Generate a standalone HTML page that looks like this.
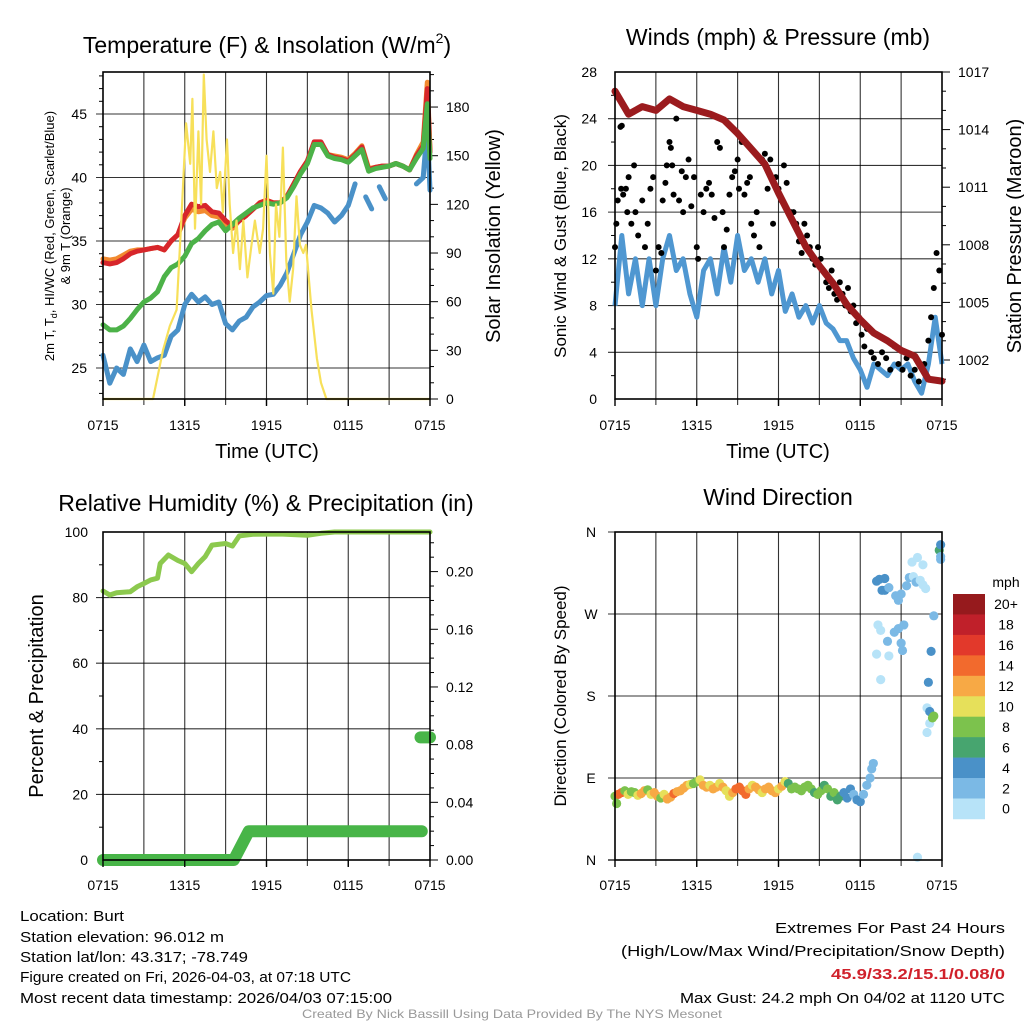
<!DOCTYPE html>
<html><head><meta charset="utf-8"><style>
html,body{margin:0;padding:0;background:#fff;}
svg{display:block;font-family:"Liberation Sans",Arial,sans-serif;}
</style></head><body>
<svg id="fig" width="1024" height="1024" viewBox="0 0 1024 1024">
<g id="p1"></g>
<g id="p2"></g>
<g id="p3"></g>
<g id="p4"></g>
<g id="txt">
<text x="20" y="921" font-size="15" textLength="104" lengthAdjust="spacingAndGlyphs">Location: Burt</text>
<text x="20" y="942" font-size="15" textLength="204" lengthAdjust="spacingAndGlyphs">Station elevation: 96.012 m</text>
<text x="20" y="962" font-size="15" textLength="228" lengthAdjust="spacingAndGlyphs">Station lat/lon: 43.317; -78.749</text>
<text x="20" y="982" font-size="15" textLength="331" lengthAdjust="spacingAndGlyphs">Figure created on Fri, 2026-04-03, at 07:18 UTC</text>
<text x="20" y="1003" font-size="15" textLength="372" lengthAdjust="spacingAndGlyphs">Most recent data timestamp: 2026/04/03 07:15:00</text>
<text x="1005" y="933" font-size="15" text-anchor="end" textLength="230" lengthAdjust="spacingAndGlyphs">Extremes For Past 24 Hours</text>
<text x="1005" y="956" font-size="15" text-anchor="end" textLength="384" lengthAdjust="spacingAndGlyphs">(High/Low/Max Wind/Precipitation/Snow Depth)</text>
<text x="1005" y="979" font-size="15" text-anchor="end" font-weight="bold" fill="#d0212b" textLength="174" lengthAdjust="spacingAndGlyphs">45.9/33.2/15.1/0.08/0</text>
<text x="1005" y="1003" font-size="15" text-anchor="end" textLength="325" lengthAdjust="spacingAndGlyphs">Max Gust: 24.2 mph On 04/02 at 1120 UTC</text>
<text x="512" y="1018" font-size="12" text-anchor="middle" fill="#999" textLength="420" lengthAdjust="spacingAndGlyphs">Created By Nick Bassill Using Data Provided By The NYS Mesonet</text>
</g>
</svg>
<script>
// ---- Temperature panel data ----
const tempTimes=[0,0.5,1,1.5,2,2.5,3,3.5,4,4.5,5,5.5,6,6.5,7,7.5,8,8.5,9,9.5,10,10.5,11,11.5,12,12.5,13,13.5,14,14.5,15,15.5,16,16.5,17,17.5,18,18.5,19,19.5,20,20.5,21,21.5,22,22.5,23,23.5,23.8,24];
const tempRed=[33.3,33.2,33.3,33.6,34.0,34.2,34.3,34.4,34.5,34.3,35.0,35.5,37.0,37.9,37.7,37.8,37.3,37.2,36.6,36.2,36.6,37.0,37.5,38.0,38.2,38.0,38.0,38.5,39.5,40.5,41.3,42.8,42.8,41.8,41.6,41.5,41.3,41.8,42.4,40.6,40.8,40.9,40.9,41.1,40.9,40.6,41.7,42.5,47.0,42.0];
const tempOrange=[33.6,33.5,33.6,33.9,34.2,34.3,34.3,34.4,34.5,34.3,35.0,35.5,36.8,37.5,37.3,37.4,37.0,36.9,36.3,36.0,36.6,37.0,37.5,38.0,38.2,38.0,38.0,38.5,39.5,40.5,41.3,42.7,42.7,41.8,41.7,41.6,41.4,41.9,42.5,40.7,40.8,40.9,40.9,41.1,40.9,40.6,41.8,42.8,47.5,42.2];
const tempGreen=[28.4,28.0,28.0,28.3,28.9,29.6,30.2,30.5,31.0,32.2,32.9,33.2,33.8,34.8,35.2,35.8,36.3,36.5,35.8,36.3,36.8,37.2,37.6,37.8,38.0,37.9,38.0,38.4,39.3,40.3,41.1,42.6,42.6,41.7,41.5,41.4,41.2,41.7,42.2,40.5,40.7,40.8,40.9,41.1,40.9,40.6,41.5,42.3,45.8,41.5];
const tempBlue=[26.0,23.8,25.0,24.5,26.5,25.5,26.8,25.5,25.8,26.0,27.5,28.0,30.0,30.8,30.2,30.6,30.0,30.2,28.5,28.0,28.7,29.0,29.8,30.2,30.7,30.8,31.5,32.5,34.0,35.5,36.5,37.8,37.6,37.2,36.5,37.0,37.8,39.5,null,38.0,null,38.8,null,null,null,null,39.5,40.0,44.0,39.0];
const insTimes=[0,3.67,4.4,4.9,5.4,5.75,6.1,6.4,6.56,6.75,7.0,7.2,7.4,7.6,7.85,8.1,8.35,8.6,8.8,9.1,9.3,9.55,9.8,10.05,10.3,10.6,10.9,11.15,11.5,11.75,12.0,12.25,12.5,12.7,12.95,13.2,13.45,13.7,13.95,14.2,14.45,14.7,14.9,15.3,15.7,16.0,16.4,24];
const insValues=[0,0,30,45,55,110,170,145,185,105,165,120,200,160,140,165,130,140,115,160,120,90,110,80,110,75,95,110,90,105,150,90,65,120,100,155,85,60,80,125,95,90,95,55,25,10,0,0];
const tempTicks=[25,30,35,40,45];
const insTicks=[0,30,60,90,120,150,180];
const timeTickLabels=["0715","1315","1915","0115","0715"];
// ---- Winds panel data ----
const windTimes=[0,0.5,1,1.5,2,2.5,3,3.5,4,4.5,5,5.5,6,6.5,7,7.5,8,8.5,9,9.5,10,10.5,11,11.5,12,12.5,13,13.5,14,14.5,15,15.5,16,16.5,17,17.5,18,18.5,19,19.5,20,20.5,21,21.5,22,22.5,23,23.5,24];
const windSpeed=[8,14,9,12,8,12,8,12,14,11,12,9,7,11,12,9,13,10,14,11,12,10,12,9,11,7.5,9,7,8,6.5,8,6.5,6,5,5,3.5,2.5,1,3,2.5,2,3,2.5,3,1.5,0.5,3,7,3];
const presTimes=[0,1,2,3,4,5,6,7,8,9,10,11,12,13,14,15,16,17,18,19,20,21,22,23,24];
const pressure=[1016.0,1014.8,1015.2,1015.0,1015.6,1015.2,1015.0,1014.8,1014.5,1013.8,1013.0,1012.2,1010.7,1009.3,1007.9,1006.9,1006.0,1004.9,1004.1,1003.4,1003.0,1002.5,1002.2,1001.0,1000.9];
const gustTimes=[0,0.1,0.2,0.4,0.5,0.45,0.6,0.8,0.9,1,1.2,1.4,1.5,1.7,2,2.2,2.4,2.6,2.8,3,3.2,3.4,3.5,3.7,3.8,4,4.1,4.2,4.3,4.5,4.7,4.9,5,5.2,5.4,5.6,5.8,6,6.1,6.3,6.5,6.7,6.9,7.1,7.3,7.5,7.7,7.9,8,8.2,8.4,8.6,8.8,9,9.1,9.3,9.5,9.7,9.9,10,10.2,10.4,10.6,10.8,11,11.2,11.4,11.6,11.8,12,12.2,12.4,12.6,12.9,13.1,13.3,13.5,13.7,13.9,14.1,14.3,14.5,14.7,14.9,15.1,15.3,15.5,15.7,15.9,16.1,16.3,16.5,16.7,16.9,17.1,17.3,17.5,17.7,17.9,18.1,18.3,18.5,18.8,19,19.3,19.6,19.9,20.2,20.5,20.8,21.1,21.4,21.7,22,22.3,22.7,23,23.2,23.4,23.6,23.8,24];
const gustSpeed=[13,15,17,23.3,23.4,18,17.5,18,16,19,15,20,16,14,17,13,15,18,19,11,13,12.5,17,18.5,20,22,21.5,20,17.5,24,17,19.5,16,19,20.5,16.5,19,13,12,17.5,16,18,18.5,17.5,15.5,22,21.5,16,13,14.5,17.5,19,19.5,20.5,18,22,17.5,18.5,19,15,14,16,13,20.5,21,18,20.5,15,19,18,17,20,18.5,16,16,15,13.5,12.5,15,14,13,12,11.5,13,12,11,10,9.5,11,9,8.5,10,9,8,9.5,7.5,8,6.5,7,5.5,4.5,6,4,3.5,3,4,3.5,2.5,4.5,3,2.5,3.5,2,2.5,1.5,3,5,7,9.5,12.5,11,5.5];
const windTicks=[0,4,8,12,16,20,24,28];
const presTicks=[1002,1005,1008,1011,1014,1017];
// ---- Humidity panel data ----
const rhTimes=[0,0.5,1,2,2.5,3,3.5,4,4.2,4.8,5.5,6,6.5,7,7.5,8,9,9.5,10,11,13,15,16,17,24];
const rhValues=[82,80.8,81.5,81.8,83.3,84.3,85.4,85.9,90.4,93,91.3,90.4,87.9,90.4,92.5,96,96.5,95.7,98.8,99.3,99.4,99,99.6,100,100];
const precipTimes=[0,9.6,10.7,23.4];
const precipValues=[0,0,0.02,0.02];
const snowTimes=[23.3,24.0];
const snowValues=[0.085,0.085];
const rhTicks=[0,20,40,60,80,100];
const precipTicks=["0.00","0.04","0.08","0.12","0.16","0.20"];
// ---- Wind direction panel data ----
const dirTimes=[0,0.12,0.24,0.48,0.72,0.96,1.2,1.44,1.68,1.92,2.16,2.4,2.64,2.88,3.12,3.36,3.6,3.84,4.08,4.32,4.56,4.8,5.04,5.28,5.52,5.76,6.0,6.24,6.48,6.72,6.96,7.2,7.44,7.68,7.92,8.16,8.4,8.64,8.88,9.12,9.36,9.6,9.84,10.08,10.32,10.56,10.8,11.04,11.28,11.52,11.76,12.0,12.24,12.48,12.72,12.96,13.2,13.44,13.68,13.92,14.16,14.4,14.64,14.88,15.12,15.36,15.6,15.84,16.08,16.32,16.56,16.8,17.04,17.28,17.52,17.76,18.0,18.24,18.48,18.72,18.84,18.96,
19.2,19.4,19.8,19.6,19.8,20.1,19.3,19.5,19.2,19.5,20.0,20.1,20.5,20.8,21.0,21.1,20.6,20.8,21.2,21.0,21.4,21.6,21.9,22.1,22.4,22.6,22.8,21.8,22.2,22.6,23.4,23.2,23.0,22.9,23.1,23.1,23.3,23.4,22.9,23.8,23.9,23.9,23.9,22.2];
const dirValues=[70,62,72,74,76,72,75,74,71,73,76,77,72,74,70,68,72,67,69,73,75,76,79,82,83,84,86,88,82,80,82,78,80,84,80,76,70,74,78,80,76,72,78,82,80,77,74,78,80,76,74,78,81,86,84,78,80,78,76,80,82,78,74,72,76,82,78,70,74,66,70,74,68,78,72,66,64,72,82,90,100,106,
306,308,309,296,296,299,258,252,226,198,240,224,250,254,238,230,290,285,258,292,301,310,311,305,307,302,298,327,332,324,268,229,195,167,163,150,156,158,140,340,346,333,330,3];
const dirSpeed=[8,8,14,14,9,10,9,8,10,12,12,8,10,12,12,8,10,12,12,14,12,12,12,12,10,8,8,10,12,12,10,12,12,10,12,10,10,12,14,14,14,14,12,10,12,12,10,12,12,12,12,10,12,10,6,8,8,8,8,8,8,8,6,8,8,6,8,6,8,6,6,4,4,4,2,4,4,2,2,2,2,2,
4,4,4,4,4,3,1,1,1,1,2,1,3,2,3,3,2,3,3,3,2,2,1,2,1,1,1,1,1,1,3,4,4,1,4,1,8,8,1,6,4,3,2,0];
const dirTickLabels=["N","E","S","W","N"];
const speedBinLabels=["0","2","4","6","8","10","12","14","16","18","20+"];
const speedBinColors=["#b7e3f8","#7bb9e5","#4a91c8","#47a56f","#7cc24d","#e6e05a","#f7a945","#f26a2d","#e2392b","#c0202a","#961a1d"];

const NS="http://www.w3.org/2000/svg";
function mk(parent,tag,attrs){const e=document.createElementNS(NS,tag);for(const k in attrs)e.setAttribute(k,attrs[k]);parent.appendChild(e);return e;}
function txt(parent,x,y,s,size,anchor,extra){const t=mk(parent,"text",Object.assign({x:x,y:y,"font-size":size,"text-anchor":anchor||"start"},extra||{}));t.textContent=s;return t;}
function pathFrom(xs,ys){let d="",pen=false;for(let i=0;i<xs.length;i++){if(ys[i]===null||ys[i]===undefined){pen=false;continue;}d+=(pen?"L":"M")+xs[i].toFixed(1)+" "+ys[i].toFixed(1);pen=true;}return d;}

function frame(g,x0,x1,y0,y1,hLines){
  for(let h=3;h<24;h+=3){const x=x0+h*(x1-x0)/24;
    const l=mk(g,"line",{x1:x,x2:x,y1:y0,y2:y1+6,stroke:"#000","stroke-width":1.1,"stroke-opacity":0.8});
    
    }
  hLines.forEach(y=>{const l=mk(g,"line",{x1:x0-7,x2:x1,y1:y,y2:y,stroke:"#000","stroke-width":1.1,"stroke-opacity":0.8});
    
    });
}
function box(g,x0,x1,y0,y1){const r=mk(g,"rect",{x:x0,y:y0,width:x1-x0,height:y1-y0,fill:"none",stroke:"#000","stroke-width":1.6});
  
  
  [0,6,12,18,24].forEach(h=>{const x=x0+h*(x1-x0)/24;mk(g,"line",{x1:x,x2:x,y1:y1,y2:y1+7,stroke:"#000","stroke-width":1.4});});
}
function xLabels(g,x0,x1,y){timeTickLabels.forEach((s,i)=>{const t=txt(g,x0+i*6*(x1-x0)/24,y,s,14,"middle");
  
  });}

// ================= Panel 1 =================
(function(){
  const g=document.getElementById("p1");const x0=103,x1=430,y0=72,y1=399;
  const X=h=>x0+h*(x1-x0)/24, YT=t=>368-(t-25)*12.7, YI=v=>399-v*1.622;
  frame(g,x0,x1,y0,y1,tempTicks.map(YT));
  for(let t=23;t<=48;t++){if(t%5)mk(g,"line",{x1:x0-4,x2:x0,y1:YT(t),y2:YT(t),stroke:"#000","stroke-width":1});}
  for(let v=0;v<=200;v+=10){const y=YI(v);mk(g,"line",{x1:x1,x2:x1+(v%30===0?8:4),y1:y,y2:y,stroke:"#000","stroke-width":1});}
  const xs=tempTimes.map(X);
  const add=(arr,col,w,name)=>{const p=mk(g,"path",{d:pathFrom(xs,arr.map(v=>v===null?null:YT(v))),fill:"none",stroke:col,"stroke-width":w,"stroke-linejoin":"round","stroke-linecap":"round"});
    
    };
  add(tempBlue,"#4a91c8",5,"wind-chill-line");
  tempBlue.forEach((v,i)=>{if(v!==null&&(i===0||tempBlue[i-1]===null)&&(i===tempBlue.length-1||tempBlue[i+1]===null)){mk(g,"line",{x1:xs[i]-3,x2:xs[i]+3,y1:YT(v)-6,y2:YT(v)+6,stroke:"#4a91c8","stroke-width":5,"stroke-linecap":"round"});}});
  add(tempOrange,"#f28a30",5,"temp-9m-line");
  add(tempRed,"#d7262b",5,"temp-2m-line");
  add(tempGreen,"#4cb248",5,"dewpoint-line");
  const ip=mk(g,"path",{d:pathFrom(insTimes.map(X),insValues.map(YI)),fill:"none",stroke:"#f7e05a","stroke-width":2.2,"stroke-linejoin":"round"});
  
  
  box(g,x0,x1,y0,y1);
  tempTicks.forEach(t=>{const e=txt(g,87,YT(t)+5,String(t),14,"end");
    
    });
  insTicks.forEach(v=>{const e=txt(g,446,YI(v)+5,String(v),14,"start");
    
    });
  xLabels(g,x0,x1,430);
  let e=mk(g,"text",{x:267,y:53,"font-size":23,"text-anchor":"middle"});
  e.innerHTML='Temperature (F) &amp; Insolation (W/m<tspan font-size="14" dy="-10">2</tspan><tspan dy="10">)</tspan>';
  
  
  e=txt(g,267,458,"Time (UTC)",20,"middle");
  
  
  e=mk(g,"text",{x:0,y:0,"font-size":13,"text-anchor":"middle",transform:"translate(54,236) rotate(-90)"});
  e.innerHTML='2m T, T<tspan font-size="9" dy="3">d</tspan><tspan dy="-3">, HI/WC (Red, Green, Scarlet/Blue)</tspan>';
  
  
  e=txt(g,0,0,"& 9m T (Orange)",13,"middle",{transform:"translate(70,236) rotate(-90)"});
  
  
  e=txt(g,0,0,"Solar Insolation (Yellow)",20,"middle",{transform:"translate(500,236) rotate(-90)"});
  
  
})();

// ================= Panel 2 =================
(function(){
  const g=document.getElementById("p2");const x0=615,x1=942,y0=72,y1=399;
  const X=h=>x0+h*(x1-x0)/24, YW=v=>399-v*11.68, YP=p=>72+(1017-p)*19.2;
  frame(g,x0,x1,y0,y1,windTicks.slice(1,7).map(YW));
  for(let v=2;v<28;v+=4){mk(g,"line",{x1:x0-4,x2:x0,y1:YW(v),y2:YW(v),stroke:"#000","stroke-width":1});}
  for(let p=1001;p<=1017;p++){const y=YP(p);mk(g,"line",{x1:x1,x2:x1+((1017-p)%3===0?8:4),y1:y,y2:y,stroke:"#000","stroke-width":1});}
  const wp=mk(g,"path",{d:pathFrom(windTimes.map(X),windSpeed.map(YW)),fill:"none",stroke:"#4f97d1","stroke-width":5,"stroke-linejoin":"round"});
  
  
  gustTimes.forEach((t,i)=>{const c=mk(g,"circle",{cx:X(t),cy:YW(gustSpeed[i]),r:3,fill:"#000"});
    
    });
  const pp=mk(g,"path",{d:pathFrom(presTimes.map(X),pressure.map(YP)),fill:"none",stroke:"#9b1b1e","stroke-width":7,"stroke-linejoin":"round","stroke-linecap":"round"});
  
  
  box(g,x0,x1,y0,y1);
  windTicks.forEach(v=>{const e=txt(g,597,YW(v)+5,String(v),14,"end");
    
    });
  presTicks.forEach(p=>{const e=txt(g,958,YP(p)+5,String(p),14,"start");
    
    });
  xLabels(g,x0,x1,430);
  let e=txt(g,778,45,"Winds (mph) & Pressure (mb)",23,"middle");
  
  
  e=txt(g,778,458,"Time (UTC)",20,"middle");
  
  
  e=txt(g,0,0,"Sonic Wind & Gust (Blue, Black)",17,"middle",{transform:"translate(566,236) rotate(-90)"});
  
  
  e=txt(g,0,0,"Station Pressure (Maroon)",20,"middle",{transform:"translate(1021,236) rotate(-90)"});
  
  
})();

// ================= Panel 3 =================
(function(){
  const g=document.getElementById("p3");const x0=103,x1=430,y0=532,y1=860;
  const X=h=>x0+h*(x1-x0)/24, YR=r=>860-r*3.28, YQ=p=>860-p*1442;
  frame(g,x0,x1,y0,y1,rhTicks.slice(1,5).map(YR));
  for(let r=10;r<100;r+=20){mk(g,"line",{x1:x0-4,x2:x0,y1:YR(r),y2:YR(r),stroke:"#000","stroke-width":1});}
  for(let k=0;k<=22;k++){const y=YQ(k*0.01);mk(g,"line",{x1:x1,x2:x1+(k%4===0?8:4),y1:y,y2:y,stroke:"#000","stroke-width":1});}
  let p=mk(g,"path",{d:pathFrom(precipTimes.map(X),precipValues.map(YQ)),fill:"none",stroke:"#48b548","stroke-width":12,"stroke-linejoin":"round","stroke-linecap":"round"});
  
  
  p=mk(g,"path",{d:pathFrom(snowTimes.map(X),snowValues.map(YQ)),fill:"none",stroke:"#48b548","stroke-width":12,"stroke-linecap":"round"});
  
  
  p=mk(g,"path",{d:pathFrom(rhTimes.map(X),rhValues.map(YR)),fill:"none",stroke:"#8cc94e","stroke-width":5,"stroke-linejoin":"round","stroke-linecap":"round"});
  
  
  box(g,x0,x1,y0,y1);
  rhTicks.forEach(r=>{const e=txt(g,88,YR(r)+5,String(r),14,"end");
    
    });
  precipTicks.forEach(s=>{const e=txt(g,446,YQ(parseFloat(s))+5,s,14,"start");
    
    });
  xLabels(g,x0,x1,890);
  let e=txt(g,266,511,"Relative Humidity (%) & Precipitation (in)",23,"middle");
  
  
  e=txt(g,0,0,"Percent & Precipitation",20,"middle",{transform:"translate(43,696) rotate(-90)"});
  
  
})();

// ================= Panel 4 =================
(function(){
  const g=document.getElementById("p4");const x0=615,x1=942,y0=532,y1=860;
  const X=h=>x0+h*(x1-x0)/24, YD=d=>860-d*0.9111;
  frame(g,x0,x1,y0,y1,[90,180,270,360].map(YD));
  mk(g,"line",{x1:x0-7,x2:x0,y1:860,y2:860,stroke:"#000","stroke-width":1.2});
  dirTimes.forEach((t,i)=>{const bin=Math.min(10,Math.floor(dirSpeed[i]/2));
    const c=mk(g,"circle",{cx:X(t),cy:YD(dirValues[i]),r:4.6,fill:speedBinColors[bin]});
    
    });
  box(g,x0,x1,y0,y1);
  dirTickLabels.forEach((s,i)=>{const e=txt(g,591,YD(i*90)+5,s,14,"middle");
    
    });
  xLabels(g,x0,x1,890);
  let e=txt(g,778,505,"Wind Direction",23,"middle");
  
  
  e=txt(g,0,0,"Direction (Colored By Speed)",17,"middle",{transform:"translate(566,696) rotate(-90)"});
  
  
  const cb=mk(g,"g",{});
  
  
  const top=594,h=20.45;
  speedBinLabels.forEach((s,i)=>{const k=10-i;const y=top+i*h;
    const r=mk(cb,"rect",{x:953,y:y,width:32,height:h+0.3,fill:speedBinColors[k]});
    
    
    const t=txt(cb,1006,y+h/2+5,speedBinLabels[k],14,"middle");
    
    });
  e=txt(cb,1006,587,"mph",14,"middle");
  
  
})();
</script>
</body></html>
